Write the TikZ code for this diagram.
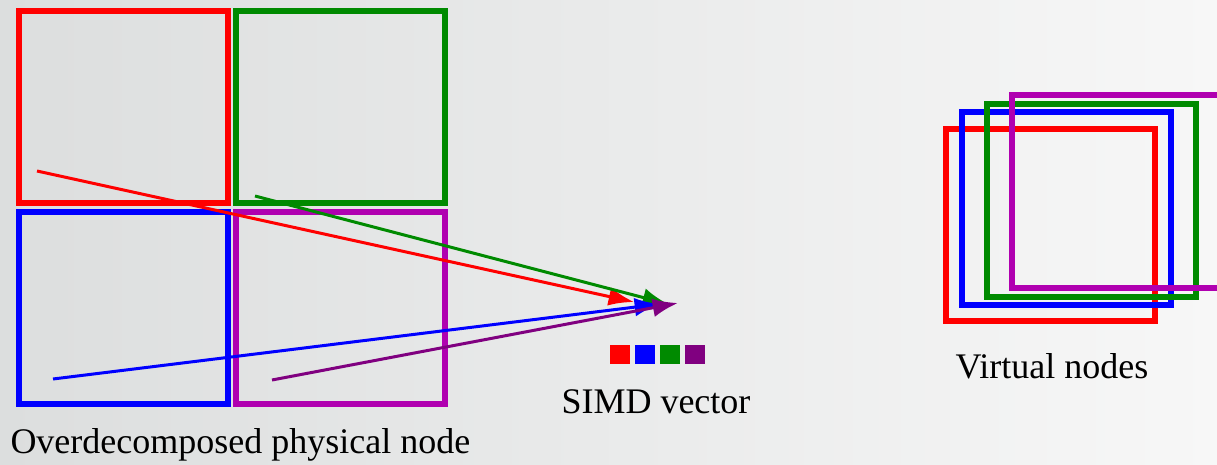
\documentclass[tikz,border=0pt]{standalone}
\usepackage{fontspec}
\setmainfont{Liberation Serif}
\usetikzlibrary{arrows.meta}

\definecolor{boxred}{RGB}{255,0,0}
\definecolor{boxgreen}{RGB}{0,138,0}
\definecolor{boxblue}{RGB}{0,0,255}
\definecolor{boxpurple}{RGB}{176,0,176}
\definecolor{arrowpurple}{RGB}{128,0,128}

\tikzset{every picture/.style={line width=0.75pt}}
\tikzset{
  cellbox/.style={line width=4.5pt},
  lanearrow/.style={line width=2.25pt,-{Latex[length=19pt,width=14pt]}},
  lanesq/.style={inner sep=0pt,minimum width=15pt,minimum height=14.5pt},
  caption/.style={anchor=base west,inner sep=0pt,font=\fontsize{27}{32}\selectfont}
}

\begin{document}
\begin{tikzpicture}[x=0.75pt,y=0.75pt,yscale=-1,xscale=1]
%Background
\shade [left color={rgb,255:red,220;green,222;blue,222}, right color={rgb,255:red,247;green,247;blue,247}] (0,0) rectangle (1217,464);
\useasboundingbox (0,0) rectangle (1217,464);

%Shape: Rectangle [physical node, four pieces]
\draw [cellbox,color=boxred] (19,11) rectangle (228,203);
\draw [cellbox,color=boxgreen] (236,11) rectangle (445,203);
\draw [cellbox,color=boxblue] (19,212) rectangle (228,404);
\draw [cellbox,color=boxpurple] (236,212) rectangle (445,404);

%Coordinates of arrow ends
\coordinate (redsrc) at (37,171);
\coordinate (greensrc) at (255,196);
\coordinate (bluesrc) at (53,379);
\coordinate (purplesrc) at (272,380);
\coordinate (redtip) at (634,302);
\coordinate (greentip) at (668,304);
\coordinate (bluetip) at (660,304);
\coordinate (purpletip) at (678,303);

%Arrows to SIMD vector
\draw [lanearrow,color=boxred] (redsrc) -- (redtip);
\draw [lanearrow,color=boxgreen] (greensrc) -- (greentip);
\draw [lanearrow,color=boxblue] (bluesrc) -- (bluetip);
\draw [lanearrow,color=arrowpurple] (purplesrc) -- (purpletip);

%SIMD vector lanes
\node [lanesq,fill=boxred] (lane1) at (620,354.5) {};
\node [lanesq,fill=boxblue] (lane2) at (645,354.5) {};
\node [lanesq,fill=boxgreen] (lane3) at (670,354.5) {};
\node [lanesq,fill=arrowpurple] (lane4) at (695,354.5) {};

%Shape: Rectangle [virtual nodes]
\draw [cellbox,color=boxred] (945.5,128.5) rectangle (1154.5,321);
\draw [cellbox,color=boxblue] (962,111.5) rectangle (1171,304.5);
\draw [cellbox,color=boxgreen] (987,103.5) rectangle (1196,296.5);
\draw [cellbox,color=boxpurple] (1012,95) rectangle (1221,288);

% Text Node
\draw (10,453) node [caption] (physlabel) {Overdecomposed physical node};
% Text Node
\draw (561,413) node [caption] (simdlabel) {SIMD vector};
% Text Node
\draw (955,378) node [caption] (virtlabel) {Virtual nodes};

\end{tikzpicture}
\end{document}
